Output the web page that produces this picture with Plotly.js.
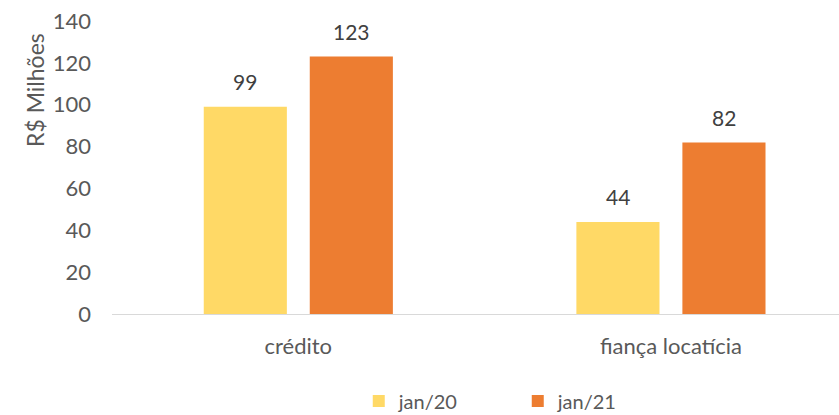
<!DOCTYPE html>
<html>
<head>
<meta charset="utf-8">
<script src="https://cdn.plot.ly/plotly-3.0.1.min.js"></script>
<style>html,body{margin:0;padding:0;background:#fff;}#chart{width:839px;height:415px;}</style>
</head>
<body>
<div id="chart"></div>
<script>
const categories = ["crédito", "fiança locatícia"];
const seriesNames = ["jan/20", "jan/21"];
const jan20 = [99, 44];
const jan21 = [123, 82];
const yTicks = [0, 20, 40, 60, 80, 100, 120, 140];

const FONT = "Lato, 'Open Sans', sans-serif";
const GRAY = "#595959";
const LABEL = "#404040";

const traces = [
  {type: "bar", name: seriesNames[0], x: categories, y: jan20, marker: {color: "#FFD966"}, hoverinfo: "none"},
  {type: "bar", name: seriesNames[1], x: categories, y: jan21, marker: {color: "#ED7D31"}, hoverinfo: "none"}
];

// data labels placed over each bar of the group
const labelAnn = [];
[jan20, jan21].forEach((vals, s) => {
  vals.forEach((v, i) => {
    labelAnn.push({xref: "x", yref: "y", x: categories[i], y: v, text: String(v),
      xshift: s === 0 ? -53 : 53, yshift: 25, xanchor: "center", yanchor: "middle",
      showarrow: false, font: {family: FONT, size: 21, color: LABEL}});
  });
});

const layout = {
  width: 839, height: 415,
  margin: {l: 112, r: 0, t: 21, b: 101},
  paper_bgcolor: "#fff", plot_bgcolor: "#fff",
  font: {family: FONT, color: GRAY, size: 21},
  barmode: "group", bargap: 0.431, bargroupgap: 0.216,
  showlegend: true,
  legend: {orientation: "h", xref: "container", yref: "container", x: 0.4276, xanchor: "left",
           y: 14/415, yanchor: "middle", font: {family: FONT, size: 20, color: GRAY},
           entrywidth: 114, traceorder: "normal"},
  xaxis: {range: [-0.5, 1.451], showgrid: false, zeroline: false, showline: true,
          linecolor: "#D9D9D9", linewidth: 1, ticks: "", ticklabelstandoff: 13,
          tickfont: {family: FONT, size: 22, color: GRAY}, fixedrange: true},
  yaxis: {range: [0, 140], tickvals: yTicks, showgrid: false, zeroline: false, showline: false,
          ticks: "", ticklabelstandoff: 20, tickfont: {family: FONT, size: 22, color: GRAY}, fixedrange: true},
  annotations: labelAnn.concat([{text: "R$ Milhões", xref: "paper", yref: "paper", x: (35 - 112) / 727, y: (314 - 90) / 293,
                 xanchor: "center", yanchor: "middle", textangle: -90, showarrow: false,
                 font: {family: FONT, size: 23, color: GRAY}}])
};

Plotly.newPlot("chart", traces, layout, {staticPlot: true, displayModeBar: false});
</script>
</body>
</html>
